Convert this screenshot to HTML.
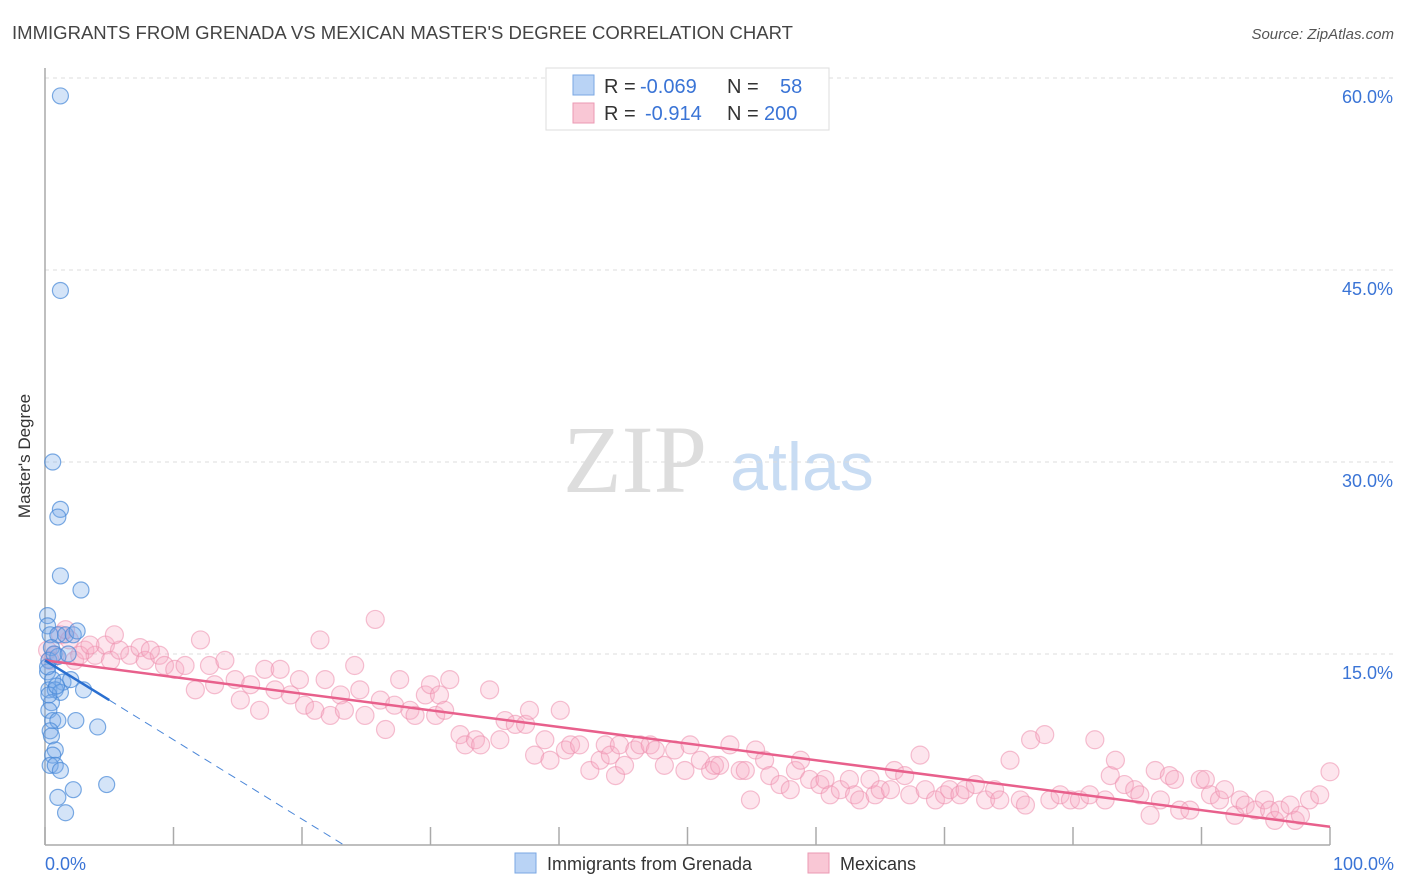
<!DOCTYPE html>
<html><head><meta charset="utf-8"><style>
body{margin:0;background:#fff;font-family:"Liberation Sans",sans-serif}
#wrap{position:relative;width:1406px;height:892px;overflow:hidden}
</style></head><body>
<div id="wrap">
<svg id="svg" width="1406" height="892" xmlns="http://www.w3.org/2000/svg">
<text x="12" y="39" font-size="18" fill="#444" textLength="781" lengthAdjust="spacingAndGlyphs">IMMIGRANTS FROM GRENADA VS MEXICAN MASTER'S DEGREE CORRELATION CHART</text>
<text x="1394" y="39" font-size="15" fill="#555" font-style="italic" text-anchor="end">Source: ZipAtlas.com</text>
<text x="30" y="456" font-size="17" fill="#333" text-anchor="middle" transform="rotate(-90 30 456)">Master's Degree</text>
<text x="635" y="492" font-size="96" fill="#ddd" font-family="Liberation Serif,serif" text-anchor="middle">ZIP</text>
<text x="802" y="490" font-size="68" fill="#c8dcf3" text-anchor="middle">atlas</text>
<g id="grid"></g><g id="pink"></g><g id="blue"></g><g id="lines"></g>
<rect x="546" y="68" width="283" height="62" fill="#fff" stroke="#ddd"/>
<rect x="573" y="75" width="21" height="20" fill="#b9d3f5" stroke="#7aa7e3"/>
<rect x="573" y="103" width="21" height="20" fill="#f9c7d5" stroke="#eb9ab3"/>
<text font-size="20" fill="#333"><tspan x="604" y="93">R = </tspan><tspan x="640" fill="#3a74d6">-0.069</tspan><tspan x="727">N = </tspan><tspan x="780" fill="#3a74d6">58</tspan></text>
<text font-size="20" fill="#333"><tspan x="604" y="120">R = </tspan><tspan x="645" fill="#3a74d6">-0.914</tspan><tspan x="727">N = </tspan><tspan x="764" fill="#3a74d6">200</tspan></text>
<text x="45" y="870" font-size="18" fill="#3a74d6">0.0%</text>
<text x="1394" y="870" font-size="18" fill="#3a74d6" text-anchor="end">100.0%</text>
<rect x="515" y="853" width="21" height="20" fill="#b9d3f5" stroke="#7aa7e3"/>
<text x="547" y="870" font-size="18" fill="#333">Immigrants from Grenada</text>
<rect x="808" y="853" width="21" height="20" fill="#f9c7d5" stroke="#eb9ab3"/>
<text x="840" y="870" font-size="18" fill="#333">Mexicans</text>
</svg></div>
<script>
const yTicks=[15,30,45,60];
const yTickLabels=["15.0%","30.0%","45.0%","60.0%"];
const xTicks=[0,10,20,30,40,50,60,70,80,90,100];
const pinkX=[1.2,1.9,0.8,2.3,3.1,3.9,4.7,5.1,5.8,6.6,7.4,7.8,8.9,9.3,10.1,10.9,11.7,12.1,12.8,13.2,14.0,14.8,15.2,16.0,16.7,17.1,17.9,18.3,19.1,19.8,20.2,21.0,21.4,21.8,22.2,23.0,23.3,24.1,24.5,24.9,25.7,26.1,26.5,27.2,27.6,28.4,28.8,29.6,30.0,30.4,30.7,31.1,31.5,32.3,32.7,33.5,33.9,34.6,35.4,35.8,36.6,37.4,37.7,38.1,38.9,39.3,40.1,40.5,40.9,41.6,42.4,43.2,43.6,44.0,44.4,44.7,45.1,45.9,46.3,47.1,47.5,48.2,49.0,49.8,50.2,51.0,51.8,52.1,52.5,53.3,54.1,54.5,54.9,55.3,56.0,56.4,57.2,58.0,58.4,58.8,59.5,60.3,60.7,61.1,61.9,62.6,63.0,63.4,64.2,64.6,65.0,65.8,66.1,66.9,67.3,68.1,68.5,69.3,70.0,70.4,71.2,71.6,72.4,73.2,73.9,74.3,75.1,75.9,76.3,76.7,77.8,78.2,79.0,79.8,80.5,81.3,81.7,82.5,82.9,83.3,84.0,84.8,85.2,86.0,86.4,86.8,87.5,87.9,88.3,89.1,89.9,90.3,90.7,91.4,91.8,92.6,93.0,93.4,94.2,94.9,95.3,95.7,96.1,96.9,97.3,97.7,98.4,99.2,100,0.2,0.4,1.6,2.7,3.5,5.4,8.2];
const pinkY=[16.5,16.1,14.9,14.5,15.3,14.9,15.7,14.5,15.3,14.9,15.5,14.5,14.9,14.1,13.8,14.1,12.2,16.1,14.1,12.6,14.5,13.0,11.4,12.6,10.6,13.8,12.2,13.8,11.8,13.0,11.0,10.6,16.1,13.0,10.2,11.8,10.6,14.1,12.2,10.2,17.7,11.4,9.1,11.0,13.0,10.6,10.2,11.8,12.6,10.2,11.8,10.6,13.0,8.7,7.9,8.3,7.9,12.2,8.3,9.8,9.5,9.5,10.6,7.1,8.3,6.7,10.6,7.5,7.9,7.9,5.9,6.7,7.9,7.1,5.5,7.9,6.3,7.5,7.9,7.9,7.5,6.3,7.5,5.9,7.9,6.7,5.9,6.3,6.3,7.9,5.9,5.9,3.6,7.5,6.7,5.5,4.8,4.4,5.9,6.7,5.2,4.8,5.2,4.0,4.4,5.2,4.0,3.6,5.2,4.0,4.4,4.4,5.9,5.5,4.0,7.1,4.4,3.6,4.0,4.4,4.0,4.4,4.8,3.6,4.4,3.6,6.7,3.6,3.2,8.3,8.7,3.6,4.0,3.6,3.6,4.0,8.3,3.6,5.5,6.7,4.8,4.4,4.0,2.4,5.9,3.6,5.5,5.2,2.8,2.8,5.2,5.2,4.0,3.6,4.4,2.4,3.6,3.2,2.8,3.6,2.8,2.0,2.8,3.2,2.0,2.4,3.6,4.0,5.8,15.3,14.5,16.9,14.9,15.7,16.5,15.3];
const blueX=[1.2,1.2,0.6,1.2,1.0,1.2,2.8,0.2,0.2,0.4,1.0,1.6,2.2,0.5,0.3,1.0,0.2,0.6,1.4,2.0,0.3,0.8,1.2,3.0,0.5,0.3,0.6,1.0,2.4,4.1,0.4,0.5,0.8,0.6,0.4,0.8,1.2,4.8,2.2,1.0,1.6,0.2,0.7,1.8,2.5,0.3,0.9];
const blueY=[58.6,43.4,30.0,26.3,25.7,21.1,20.0,18.0,17.2,16.5,16.5,16.5,16.5,15.5,14.5,14.8,13.6,13.0,12.8,13.0,12.2,12.2,12.0,12.2,11.2,10.6,9.8,9.8,9.8,9.3,9.0,8.6,7.5,7.1,6.3,6.3,5.9,4.8,4.4,3.8,2.6,14.0,15.0,15.0,16.8,11.8,12.5];
const pinkTrend=[14.5,1.5];
const blueTrend=[14.5,11.4];
const NS="http://www.w3.org/2000/svg";
const X0=45,X1=1330,Y0=846,YS=12.8;
const sx=v=>X0+(X1-X0)*v/100;
const sy=v=>Y0-v*YS;
function mk(tag,attrs,parent){const e=document.createElementNS(NS,tag);for(const k in attrs)e.setAttribute(k,attrs[k]);parent.appendChild(e);return e;}
const grid=document.getElementById('grid');
yTicks.forEach((t,i)=>{
 const l=mk('line',{x1:X0,x2:1394,y1:sy(t),y2:sy(t),stroke:'#ddd','stroke-dasharray':'4,4'},grid);
 
 
 const tx=mk('text',{x:1393,y:sy(t)+25,'font-size':18,fill:'#3a74d6','text-anchor':'end'},grid);
 tx.textContent=yTickLabels[i];
 
 
});
const ax=mk('line',{x1:X0,x2:X1,y1:845,y2:845,stroke:'#aaa','stroke-width':1.5},grid);


const ay=mk('line',{x1:X0,x2:X0,y1:68,y2:845,stroke:'#aaa','stroke-width':1.5},grid);


xTicks.forEach(t=>{
 const l=mk('line',{x1:sx(t),x2:sx(t),y1:827,y2:845,stroke:'#aaa','stroke-width':1.5},grid);
 
 
});
const pg=document.getElementById('pink');
pinkX.forEach((x,i)=>{
 const c=mk('circle',{cx:sx(x),cy:sy(pinkY[i]),r:9,fill:'rgba(248,170,195,0.3)',stroke:'rgba(236,140,172,0.55)','stroke-width':1.2},pg);
 
 
});
const bg=document.getElementById('blue');
blueX.forEach((x,i)=>{
 const c=mk('circle',{cx:sx(x),cy:sy(blueY[i]),r:8,fill:'rgba(120,170,232,0.32)',stroke:'rgba(70,135,215,0.7)','stroke-width':1.2},bg);
 
 
});
const lg=document.getElementById('lines');
const pl=mk('line',{x1:sx(0),y1:sy(pinkTrend[0]),x2:sx(100),y2:sy(pinkTrend[1]),stroke:'#e8608c','stroke-width':2.5},lg);


const slope=(blueTrend[1]-blueTrend[0])/5;
const xz=-blueTrend[0]/slope;
const bd=mk('line',{x1:sx(5),y1:sy(blueTrend[1]),x2:sx(xz),y2:sy(0),stroke:'#4a86d8','stroke-width':1,'stroke-dasharray':'8,6'},lg);


const bl=mk('line',{x1:sx(0),y1:sy(blueTrend[0]),x2:sx(5),y2:sy(blueTrend[1]),stroke:'#2a6fd0','stroke-width':2.5},lg);


</script>
</body></html>
